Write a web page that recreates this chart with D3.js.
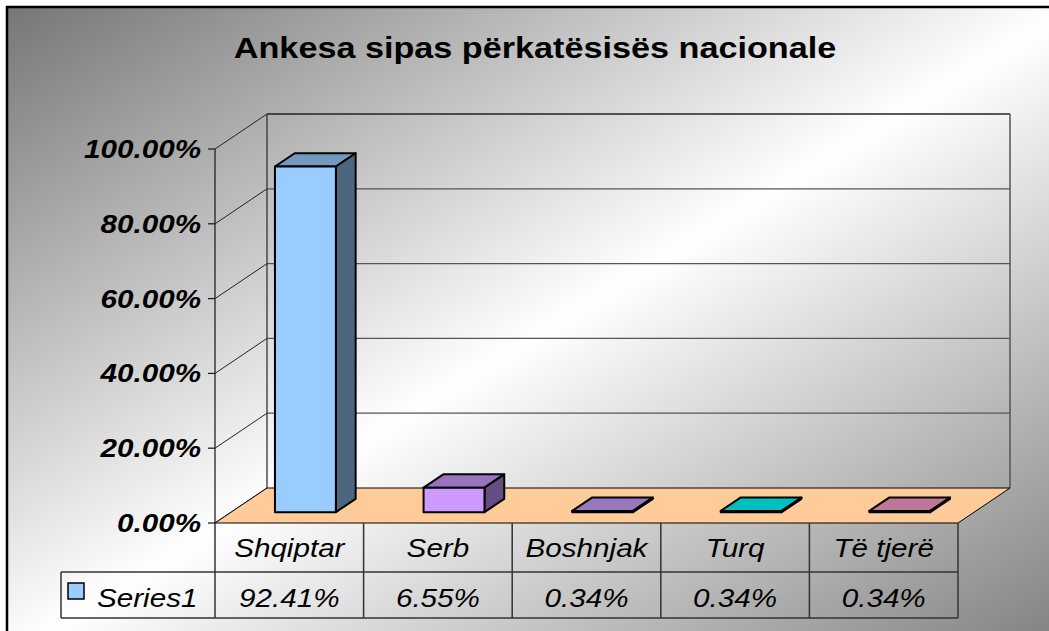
<!DOCTYPE html>
<html lang="en">
<head>
  <meta charset="UTF-8">
  <title>Ankesa sipas përkatësisës nacionale</title>
  <script src="https://d3js.org/d3.v7.min.js"></script>
  <style type="text/css">
    body { margin: 0; background: #fff; }
    text { font-family: "Liberation Sans", Arial, sans-serif; }
  </style>
</head>
<body>
<script type="text/javascript">
  var categories = ["Shqiptar", "Serb", "Boshnjak", "Turq", "Të tjerë"];
  var values = [0.9241, 0.0655, 0.0034, 0.0034, 0.0034];
  var barColors = ["#99CCFF", "#CC99FF", "#CC9FFF", "#00FFFF", "#FF9FCC"];
  var yTicks = [0, 0.2, 0.4, 0.6, 0.8, 1];
  var seriesName = "Series1";
  var title = "Ankesa sipas përkatësisës nacionale";

  var width = 1049, height = 631;
  var stretch = 1.14;          // text in the picture is drawn a little wide
  var depthX = 52, depthY = -35;
  var barFront = 0.31, barBack = 0.69;

  var x = d3.scaleBand().domain(categories).range([215, 958]).paddingInner(0).paddingOuter(0);
  var y = d3.scaleLinear().domain([0, 1]).range([523, 149]);
  var fmt = d3.format(".2%");

  // point on the chart at a given depth (0 = front, 1 = back wall)
  function pt(px, v, d) {
    return [px + d * depthX, y(v) + d * depthY];
  }

  var svg = d3.select("body").append("svg")
    .attr("width", width)
    .attr("height", height);

  var grad = svg.append("defs").append("linearGradient")
    .attr("id", "bg").attr("x1", 0).attr("y1", 0).attr("x2", 1).attr("y2", 1);
  grad.append("stop").attr("offset", 0).attr("stop-color", "#767676");
  grad.append("stop").attr("offset", 0.5).attr("stop-color", "#ffffff");
  grad.append("stop").attr("offset", 1).attr("stop-color", "#7c7c7c");

  svg.append("rect")
    .attr("x", 7).attr("y", 7)
    .attr("width", width + 20).attr("height", height + 20)
    .attr("fill", "url(#bg)")
    .attr("stroke", "#000").attr("stroke-width", 2.5);

  function stretchedText(g, tx, ty, str, anchor) {
    return g.append("text")
      .attr("transform", "translate(" + tx + "," + ty + ") scale(" + stretch + ",1)")
      .attr("text-anchor", anchor)
      .text(str);
  }

  var x0 = x.range()[0], x1 = x.range()[1];
  var walls = svg.append("g");

  // back wall gridlines and left wall lines
  yTicks.forEach(function(t) {
    var a = pt(x0, t, 1), b = pt(x1, t, 1), f = pt(x0, t, 0);
    if (t > 0) {
      walls.append("line")
        .attr("x1", a[0]).attr("y1", a[1]).attr("x2", b[0]).attr("y2", b[1])
        .attr("stroke", t == 1 ? "#222" : "#555").attr("stroke-width", 1.3);
    }
    walls.append("line")
      .attr("x1", f[0]).attr("y1", f[1]).attr("x2", a[0]).attr("y2", a[1])
      .attr("stroke", "#222").attr("stroke-width", 1);
    walls.append("line")
      .attr("x1", f[0] - 7).attr("y1", f[1]).attr("x2", f[0]).attr("y2", f[1])
      .attr("stroke", "#222").attr("stroke-width", 1.3);
  });

  var bl = pt(x0, 0, 1), tl = pt(x0, 1, 1), br = pt(x1, 0, 1), tr = pt(x1, 1, 1);
  walls.append("line").attr("x1", bl[0]).attr("y1", bl[1]).attr("x2", tl[0]).attr("y2", tl[1])
    .attr("stroke", "#333").attr("stroke-width", 1.3);
  walls.append("line").attr("x1", br[0]).attr("y1", br[1]).attr("x2", tr[0]).attr("y2", tr[1])
    .attr("stroke", "#555").attr("stroke-width", 1.5);
  walls.append("line").attr("x1", x0).attr("y1", y(0)).attr("x2", x0).attr("y2", y(1))
    .attr("stroke", "#222").attr("stroke-width", 1.3);

  // floor
  var floor = [pt(x0, 0, 0), pt(x0, 0, 1), pt(x1, 0, 1), pt(x1, 0, 0)];
  svg.append("polygon")
    .attr("points", floor.map(function(p) { return p.join(","); }).join(" "))
    .attr("fill", "#FFCC99")
    .attr("stroke", "#000").attr("stroke-width", 1);

  // bars
  var bw = x.bandwidth() * 0.41;
  var bars = svg.selectAll("g.bar")
    .data(values)
    .enter()
    .append("g").attr("class", "bar");

  bars.each(function(v, i) {
    var g = d3.select(this);
    var c = d3.color(barColors[i]);
    var left = x(categories[i]) + (x.bandwidth() - bw) / 2;
    var right = left + bw;
    var fbl = pt(left, 0, barFront), ftl = pt(left, v, barFront), ftr = pt(right, v, barFront), fbr = pt(right, 0, barFront);
    var btl = pt(left, v, barBack), btr = pt(right, v, barBack), bbr = pt(right, 0, barBack);
    function poly(pts, fill) {
      g.append("polygon")
        .attr("points", pts.map(function(p) { return p.join(","); }).join(" "))
        .attr("fill", fill)
        .attr("stroke", "#000").attr("stroke-width", 2).attr("stroke-linejoin", "round");
    }
    var shade = function(k) { return d3.rgb(c.r * k, c.g * k, c.b * k).formatHex(); };
    poly([ftl, btl, btr, ftr], shade(0.75));
    poly([fbr, ftr, btr, bbr], shade(0.5));
    poly([fbl, ftl, ftr, fbr], c.formatHex());
  });

  // y axis labels
  var yl = svg.append("g").attr("font-size", 26).attr("font-weight", "bold").attr("font-style", "italic");
  yTicks.forEach(function(t) {
    stretchedText(yl, 201, y(t) + 9, fmt(t), "end");
  });

  // data table
  var rowTop = 523, rowMid = 572, rowBot = 618, legendLeft = 61;
  var tbl = svg.append("g").attr("stroke", "#333").attr("stroke-width", 1.5);
  tbl.append("line").attr("x1", legendLeft).attr("y1", rowMid).attr("x2", x1).attr("y2", rowMid);
  tbl.append("line").attr("x1", legendLeft).attr("y1", rowBot).attr("x2", x1).attr("y2", rowBot);
  tbl.append("line").attr("x1", legendLeft).attr("y1", rowMid).attr("x2", legendLeft).attr("y2", rowBot);
  categories.forEach(function(cat) {
    tbl.append("line").attr("x1", x(cat)).attr("y1", rowTop).attr("x2", x(cat)).attr("y2", rowBot);
  });
  tbl.append("line").attr("x1", x1).attr("y1", rowTop).attr("x2", x1).attr("y2", rowBot);

  var tt = svg.append("g").attr("font-size", 26).attr("font-style", "italic");
  categories.forEach(function(cat, i) {
    var cx = x(cat) + x.bandwidth() / 2;
    stretchedText(tt, cx, 557, cat, "middle");
    stretchedText(tt, cx, 607, fmt(values[i]), "middle");
  });

  svg.append("rect")
    .attr("x", 68).attr("y", 583).attr("width", 16).attr("height", 16)
    .attr("fill", barColors[0]).attr("stroke", "#000").attr("stroke-width", 1.5);
  stretchedText(tt, 97, 607, seriesName, "start");

  // title
  var tg = svg.append("g").attr("font-size", 30).attr("font-weight", "bold");
  stretchedText(tg, (234 + 836) / 2, 58, title, "middle");
</script>
</body>
</html>
